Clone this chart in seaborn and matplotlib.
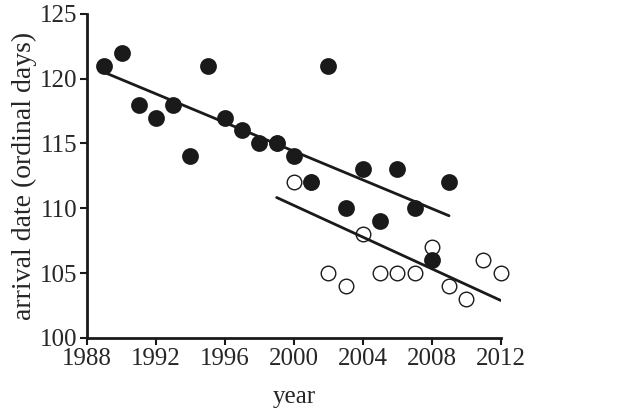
import seaborn as sns
import pandas as pd
import matplotlib
matplotlib.use('Agg')
import matplotlib.pyplot as plt

# filled circles
years_a = [1989, 1990, 1991, 1992, 1993, 1994, 1995, 1996, 1997, 1998, 1999,
           2000, 2001, 2002, 2003, 2004, 2005, 2006, 2007, 2008, 2009]
arrival_a = [121, 122, 118, 117, 118, 114, 121, 117, 116, 115, 115,
             114, 112, 121, 110, 113, 109, 113, 110, 106, 112]

# open circles (1999 and 2001 hidden behind filled ones)
years_b = [1999, 2000, 2001, 2002, 2003, 2004, 2005, 2006, 2007, 2008, 2009,
           2010, 2011, 2012]
arrival_b = [115, 112, 112, 105, 104, 108, 105, 105, 105, 107, 104,
             103, 106, 105]

df_a = pd.DataFrame({'year': years_a, 'arrival': arrival_a})
df_b = pd.DataFrame({'year': years_b, 'arrival': arrival_b})

sns.set_style('ticks')
plt.rcParams['font.family'] = ['Liberation Serif', 'DejaVu Serif']

fig = plt.figure(figsize=(6.22, 4.08), dpi=100)
ax = fig.add_axes([0.140, 0.172, 0.665, 0.794])

sns.regplot(data=df_b, x='year', y='arrival', ci=None, ax=ax,
            scatter_kws=dict(s=110, facecolors='white', edgecolors='#1a1a1a',
                             linewidths=1.0, alpha=1, zorder=2, clip_on=False),
            line_kws=dict(color='#1a1a1a', lw=2, zorder=3))
sns.regplot(data=df_a, x='year', y='arrival', ci=None, ax=ax,
            scatter_kws=dict(s=110, facecolors='#1a1a1a', edgecolors='#1a1a1a',
                             linewidths=1.6, alpha=1, zorder=4, clip_on=False),
            line_kws=dict(color='#1a1a1a', lw=2, zorder=3))

ax.set_xlim(1988, 2012)
ax.set_ylim(100, 125)
ax.set_xticks(range(1988, 2013, 4))
ax.set_yticks(range(100, 126, 5))
ax.set_xlabel('year', fontsize=18, labelpad=12)
ax.set_ylabel('arrival date (ordinal days)', fontsize=20, labelpad=2)
ax.tick_params(labelsize=18, length=5, width=1.5, color='#1a1a1a', pad=2)
for s in ['left', 'bottom']:
    ax.spines[s].set_linewidth(2)
    ax.spines[s].set_color('#1a1a1a')
sns.despine(ax=ax)

fig.savefig('out.png', dpi=100)
